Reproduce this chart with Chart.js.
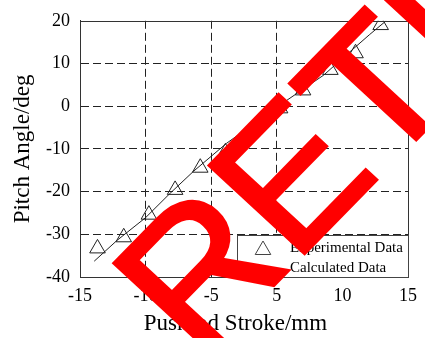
<!DOCTYPE html>
<html><head><meta charset="utf-8">
<script src="https://cdn.jsdelivr.net/npm/chart.js@4/dist/chart.umd.min.js"></script>
<style>html,body{margin:0;padding:0;background:#fff;}canvas{display:block;}</style>
</head><body>
<canvas id="c" width="425" height="338"></canvas>
<script>
// ---- data ----
const xTickLabels = ['-15', '-10', '-5', '5', '10', '15'];
const expX = [-13.4, -11.0, -8.7, -6.3, -4.0, -1.7, 0.8, 3.3, 5.4, 7.9, 10.2, 12.5];
const expY = [-33.3, -30.7, -25.4, -19.6, -14.4, -10.8, -5.5, -0.5, 3.7, 8.5, 12.4, 19.0];
const calcX = [-13.7, -11.6, -9.0, -6.8, -4.6, -1.6, 3.3, 7.3, 9.4, 11.5, 13.0];
const calcY = [-36.3, -31.4, -26.1, -20.5, -15.2, -8.7, 0.3, 7.3, 12.1, 16.8, 20.0];
const seriesNames = ['Experimental Data', 'Calculated Data'];
const xTitle = 'Pushrod Stroke/mm';
const yTitle = 'Pitch Angle/deg';
const stampText = 'RETRACTED';

const X_MIN = -15, X_MAX = 15, Y_MIN = -40, Y_MAX = 20;
const INK = '#222';
const SERIF = '"Liberation Serif", "Times New Roman", serif';

const overlay = {
  id: 'overlay',
  afterDraw(chart) {
    const ctx = chart.ctx;
    const a = chart.chartArea;
    ctx.save();
    // top and right frame lines
    ctx.strokeStyle = '#333';
    ctx.lineWidth = 1;
    ctx.beginPath();
    ctx.moveTo(Math.round(a.left) + 0.5, Math.round(a.top) + 0.5);
    ctx.lineTo(Math.round(a.right) + 0.5, Math.round(a.top) + 0.5);
    ctx.lineTo(Math.round(a.right) + 0.5, Math.round(a.bottom) + 0.5);
    ctx.stroke();

    // legend box at bottom-right of plot area
    const bx = 237, by = 235;
    const bw = Math.round(a.right) - bx, bh = Math.round(a.bottom) - by;
    ctx.fillStyle = '#fff';
    ctx.fillRect(bx + 0.5, by + 0.5, bw, bh);
    ctx.strokeStyle = '#444';
    ctx.strokeRect(bx + 0.5, by + 0.5, bw, bh);
    Chart.helpers.drawPoint(ctx, {pointStyle: 'triangle', radius: 9, borderWidth: 1}, 263, 250);
    ctx.strokeStyle = INK;
    ctx.lineWidth = 1;
    ctx.beginPath();
    ctx.moveTo(248, 268.5);
    ctx.lineTo(278, 268.5);
    ctx.stroke();
    ctx.fillStyle = '#000';
    ctx.font = '15px ' + SERIF;
    ctx.textBaseline = 'middle';
    ctx.textAlign = 'left';
    ctx.fillText(seriesNames[0], 290, 248);
    ctx.fillText(seriesNames[1], 290, 268);
    ctx.restore();

    // red stamp
    ctx.save();
    ctx.transform(1.322, -1.352, 1.381, 1.274, 198.4, 362.0);
    ctx.font = '100px "Liberation Sans", Arial, sans-serif';
    ctx.fillStyle = '#ff0000';
    ctx.strokeStyle = '#ff0000';
    ctx.lineWidth = 2;
    ctx.lineJoin = 'miter';
    ctx.textAlign = 'left';
    ctx.textBaseline = 'alphabetic';
    ctx.fillText(stampText, 0, 0);
    ctx.strokeText(stampText, 0, 0);
    ctx.restore();
  }
};

new Chart(document.getElementById('c'), {
  type: 'scatter',
  data: {
    datasets: [
      {
        label: seriesNames[0],
        data: expX.map((x, i) => ({x, y: expY[i]})),
        pointStyle: 'triangle',
        pointRadius: 9,
        pointHoverRadius: 9,
        pointBorderWidth: 1,
        pointBorderColor: INK,
        pointBackgroundColor: 'rgba(0,0,0,0)',
        showLine: false,
        order: 2
      },
      {
        label: seriesNames[1],
        data: calcX.map((x, i) => ({x, y: calcY[i]})),
        showLine: true,
        borderColor: INK,
        borderWidth: 1,
        pointRadius: 0,
        tension: 0,
        order: 1
      }
    ]
  },
  options: {
    responsive: false,
    animation: false,
    devicePixelRatio: 1,
    layout: {padding: {left: 0, top: 18, right: 9, bottom: 0}},
    plugins: {legend: {display: false}, tooltip: {enabled: false}},
    scales: {
      x: {
        type: 'linear', min: X_MIN, max: X_MAX,
        afterBuildTicks: s => {
          const n = xTickLabels.length - 1;
          s.ticks = xTickLabels.map((_, i) => ({value: X_MIN + i * (X_MAX - X_MIN) / n}));
        },
        afterFit: s => { s.height = 61; },
        ticks: {
          callback: (v, i) => xTickLabels[i],
          font: {family: SERIF, size: 18}, color: '#000', padding: 8, maxRotation: 0, autoSkip: false
        },
        grid: {
          drawTicks: false,
          color: c => (c.index === 0 || c.index === 4 || c.index === 5) ? 'rgba(0,0,0,0)' : INK,
          lineWidth: 1
        },
        border: {display: true, color: '#333', width: 1, dash: [8, 4]},
        title: {display: true, text: xTitle + '\u00A0\u00A0\u00A0', font: {family: SERIF, size: 23}, color: '#000', padding: {top: 0, bottom: 0}}
      },
      y: {
        type: 'linear', min: Y_MIN, max: Y_MAX,
        afterFit: s => { s.width = 80; },
        ticks: {stepSize: 10, font: {family: SERIF, size: 18}, color: '#000', padding: 10},
        grid: {
          drawTicks: false,
          color: c => (c.index === 0 || c.index === 6) ? 'rgba(0,0,0,0)' : INK,
          lineWidth: 1
        },
        border: {display: true, color: '#333', width: 1, dash: [8, 4]},
        title: {display: true, text: yTitle, font: {family: SERIF, size: 23}, color: '#000', padding: {top: 9, bottom: 0}}
      }
    }
  },
  plugins: [overlay]
});
</script>
</body></html>
